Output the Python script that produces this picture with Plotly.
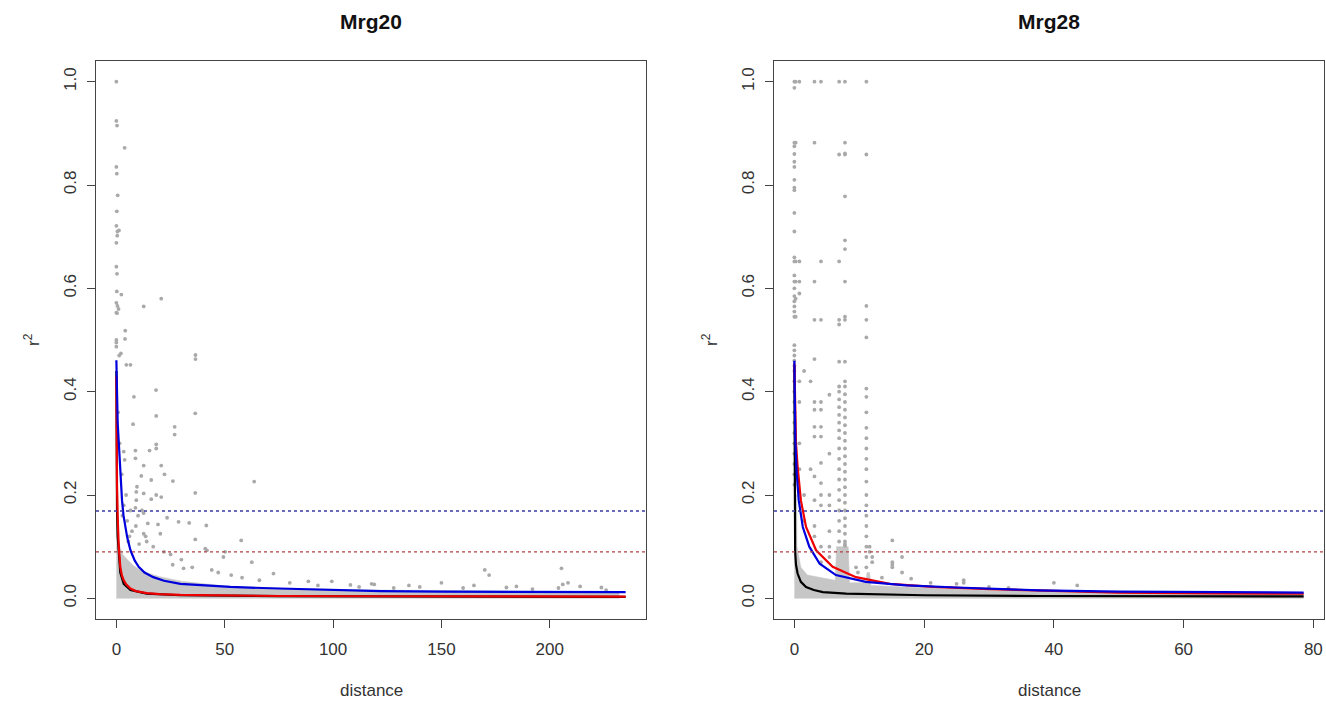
import plotly.graph_objects as go

# ---------------- data: Mrg20 ----------------
m20_pts_d = [0, 0, 0.3, 3.8, 0, 0.2, 0.6, 0.2, 0, 0.5, 1.2, 0, 0.4, 0, 0.3, 0.2, 2.3, 0, 0.5, 1, 0, 0.3,
             12.6, 20.7, 0, 0, 0, 4.1, 4.0, 2.1, 1.3, 6.5, 4.6, 36.5, 36.5, 18.3, 8.1, 18.4, 36.4, 7.7,
             26.9, 26.9, 3.4, 8.8, 15.3, 18.4, 18.4, 3.8, 8.8, 12.6, 20.7, 11.5, 22.2, 16.1, 26.1, 63.6,
             36.4, 9.5, 9.2, 9.2, 12.6, 16.1, 18.4, 20.7, 3.4, 6.5, 8.8, 11.8, 12.6, 23.4, 28.7, 33.6,
             41.5, 19.2, 20.3, 12.6, 36.4, 57.6, 41.8, 41, 50.2, 49.4, 62.5, 72.5, 88.6, 99.4, 117.8,
             205.4, 208.4, 206, 214, 223.8, 204, 180, 184.6, 170, 172, 150, 135, 119, 108, 14, 17, 22,
             25, 30, 6, 9, 5, 14.5, 10.5, 26, 31, 35, 44, 47, 53, 58, 66, 80, 93, 112, 128, 160, 192,
             226, 140, 165, 2.5, 1.5, 0.8, 4.5, 7.2, 10, 13.5, 2.8, 5.5]
m20_pts_r = [1.0, 0.924, 0.915, 0.872, 0.835, 0.822, 0.78, 0.749, 0.721, 0.71, 0.712, 0.688, 0.702,
             0.642, 0.628, 0.594, 0.588, 0.572, 0.566, 0.56, 0.553, 0.552, 0.565, 0.58, 0.5, 0.495,
             0.487, 0.518, 0.502, 0.474, 0.47, 0.452, 0.452, 0.471, 0.463, 0.403, 0.39, 0.353, 0.358,
             0.337, 0.332, 0.317, 0.284, 0.286, 0.286, 0.298, 0.29, 0.268, 0.271, 0.257, 0.257, 0.237,
             0.24, 0.229, 0.227, 0.226, 0.204, 0.216, 0.206, 0.19, 0.203, 0.192, 0.2, 0.196, 0.18, 0.17,
             0.175, 0.17, 0.165, 0.156, 0.148, 0.146, 0.141, 0.143, 0.125, 0.125, 0.114, 0.112, 0.093,
             0.096, 0.09, 0.08, 0.07, 0.048, 0.033, 0.033, 0.028, 0.058, 0.03, 0.027, 0.023, 0.021,
             0.02, 0.021, 0.023, 0.055, 0.045, 0.03, 0.025, 0.027, 0.026, 0.11, 0.1, 0.09, 0.085, 0.075,
             0.12, 0.14, 0.15, 0.145, 0.105, 0.065, 0.058, 0.06, 0.055, 0.05, 0.045, 0.04, 0.035, 0.03,
             0.025, 0.022, 0.02, 0.02, 0.018, 0.016, 0.022, 0.025, 0.24, 0.3, 0.36, 0.2, 0.13, 0.16,
             0.12, 0.16, 0.11]
# envelope of the dense cloud of points near r = 0
m20_cloud_d = [0, 0.5, 1, 2, 3, 5, 8, 12, 20, 30, 50, 80, 120, 160, 200, 232, 232, 0]
m20_cloud_r = [0.19, 0.14, 0.11, 0.095, 0.085, 0.075, 0.063, 0.052, 0.042, 0.033, 0.024, 0.019,
               0.016, 0.015, 0.014, 0.012, 0.0, 0.0]
m20_black_d = [0, 0.05, 0.15, 0.3, 0.6, 1.1, 1.8, 3.4, 6.5, 14, 29.5, 75, 150, 235]
m20_black_r = [0.44, 0.30, 0.22, 0.17, 0.12, 0.08, 0.05, 0.028, 0.016, 0.009, 0.006, 0.0042, 0.0035, 0.003]
m20_red_d = [0, 0.05, 0.15, 0.3, 0.6, 1.1, 1.8, 2.5, 3.4, 4.5, 6.5, 9, 14, 20, 29.5, 45, 75, 120, 180, 235]
m20_red_r = [0.43, 0.33, 0.27, 0.216, 0.158, 0.10, 0.061, 0.045, 0.035, 0.027, 0.019, 0.014, 0.010,
             0.008, 0.0065, 0.0055, 0.0045, 0.004, 0.0038, 0.0035]
m20_blue_d = [0, 0.1, 0.3, 0.6, 1.0, 1.5, 2.0, 2.6, 3.3, 4.1, 5.0, 6.5, 8.5, 10.3, 13, 17, 22, 29.5,
              40, 52.5, 75, 100, 122, 150, 180, 210, 235]
m20_blue_r = [0.461, 0.43, 0.384, 0.34, 0.31, 0.265, 0.23, 0.19, 0.16, 0.138, 0.118, 0.093, 0.073,
              0.061, 0.05, 0.041, 0.034, 0.028, 0.025, 0.022, 0.019, 0.016, 0.014, 0.013, 0.0125,
              0.012, 0.012]

# ---------------- data: Mrg28 ----------------
m28_pts_d = ([0] * 39 + [0.2] * 6 + [0.77] * 8 + [1.5] * 3 + [3.1] * 13 + [4.1] * 13 + [5.4] * 7
             + [6.9] * 24 + [7.8] * 35 + [11.1] * 22 + [11.6, 11.6, 12, 12, 15.1, 15.1, 15.1, 15.1,
             16.6, 16.6, 18, 9.5, 26.1, 26.1, 40, 43.6, 33, 25, 2.5, 2.5, 9.8, 13.5, 21, 30])
m28_pts_r = ([1.0, 0.988, 0.882, 0.875, 0.86, 0.845, 0.835, 0.81, 0.795, 0.79, 0.746, 0.71, 0.66,
              0.652, 0.625, 0.613, 0.60, 0.585, 0.575, 0.565, 0.555, 0.545, 0.49, 0.48, 0.47, 0.46,
              0.45, 0.44, 0.42, 0.40, 0.38, 0.36, 0.34, 0.32, 0.30, 0.28, 0.26, 0.24, 0.22]
             + [1.0, 0.882, 0.652, 0.613, 0.58, 0.545]
             + [1.0, 0.652, 0.613, 0.59, 0.42, 0.38, 0.3, 0.25]
             + [0.44, 0.2, 0.15]
             + [1.0, 0.882, 0.613, 0.539, 0.463, 0.38, 0.365, 0.332, 0.313, 0.236, 0.19, 0.14, 0.12]
             + [1.0, 0.652, 0.539, 0.38, 0.365, 0.332, 0.313, 0.262, 0.223, 0.2, 0.18, 0.1, 0.07]
             + [0.394, 0.28, 0.2, 0.18, 0.13, 0.1, 0.08]
             + [1.0, 0.859, 0.652, 0.539, 0.53, 0.458, 0.41, 0.40, 0.385, 0.37, 0.355, 0.34, 0.325,
                0.31, 0.29, 0.27, 0.25, 0.23, 0.21, 0.19, 0.17, 0.15, 0.13, 0.11]
             + [1.0, 0.882, 0.861, 0.859, 0.778, 0.693, 0.676, 0.613, 0.545, 0.539, 0.458, 0.42,
                0.41, 0.395, 0.38, 0.365, 0.35, 0.335, 0.32, 0.305, 0.29, 0.275, 0.26, 0.245, 0.23,
                0.215, 0.20, 0.185, 0.17, 0.155, 0.14, 0.125, 0.11, 0.105, 0.102]
             + [1.0, 0.859, 0.566, 0.539, 0.505, 0.406, 0.39, 0.36, 0.33, 0.31, 0.29, 0.27, 0.25,
                0.226, 0.2, 0.18, 0.16, 0.14, 0.12, 0.1, 0.08, 0.06]
             + [0.1, 0.09, 0.08, 0.07, 0.112, 0.07, 0.065, 0.06, 0.08, 0.05, 0.038, 0.06, 0.035,
                0.03, 0.03, 0.025, 0.02, 0.028, 0.42, 0.25, 0.05, 0.04, 0.03, 0.022])
m28_cloud_d = [0, 0.35, 0.4, 1, 2, 4, 6.3, 6.5, 8.3, 8.5, 11, 11.2, 11.6, 11.8, 20, 30, 50, 78.5, 78.5, 0]
m28_cloud_r = [0.2, 0.2, 0.1, 0.06, 0.045, 0.04, 0.035, 0.1, 0.1, 0.03, 0.03, 0.05, 0.05, 0.025,
               0.02, 0.015, 0.012, 0.01, 0.0, 0.0]
m28_black_d = [0, 0.02, 0.06, 0.12, 0.25, 0.5, 1.0, 1.8, 3, 4.4, 8, 12, 20, 37.8, 60, 78.5]
m28_black_r = [0.45, 0.30, 0.15, 0.09, 0.065, 0.048, 0.032, 0.022, 0.016, 0.012, 0.009, 0.0078,
               0.006, 0.0045, 0.004, 0.0038]
m28_red_d = [0, 0.1, 0.25, 0.5, 1.0, 1.8, 3.35, 5.9, 9.5, 14.7, 21.4, 30, 40, 50, 65, 78.5]
m28_red_r = [0.455, 0.38, 0.30, 0.255, 0.19, 0.138, 0.093, 0.061, 0.041, 0.028, 0.022, 0.018,
             0.014, 0.011, 0.0095, 0.009]
m28_blue_d = [0, 0.05, 0.15, 0.36, 0.67, 1.3, 2.3, 3.9, 6.4, 11, 17.3, 25, 37.8, 50, 65, 78.5]
m28_blue_r = [0.46, 0.40, 0.306, 0.242, 0.19, 0.138, 0.10, 0.067, 0.045, 0.032, 0.025, 0.021,
              0.0155, 0.013, 0.012, 0.011]

thresh_blue = 0.169
thresh_red = 0.09

titles = ["Mrg20", "Mrg28"]
x_ticks20 = [0, 50, 100, 150, 200]
x_ticks28 = [0, 20, 40, 60, 80]
y_ticks = [0.0, 0.2, 0.4, 0.6, 0.8, 1.0]
y_ticklabels = ["0.0", "0.2", "0.4", "0.6", "0.8", "1.0"]

# ---------------- figure ----------------
W, H = 1326, 702
PT_COLOR = "#a9a9a9"
CLOUD_COLOR = "#c6c6c6"
FONT = "Liberation Sans, Arial, sans-serif"

fig = go.Figure()

panels = [
    ("x", "y", m20_cloud_d, m20_cloud_r, m20_pts_d, m20_pts_r,
     (m20_black_d, m20_black_r), (m20_red_d, m20_red_r), (m20_blue_d, m20_blue_r), [-9.4, 244.4]),
    ("x2", "y2", m28_cloud_d, m28_cloud_r, m28_pts_d, m28_pts_r,
     (m28_black_d, m28_black_r), (m28_red_d, m28_red_r), (m28_blue_d, m28_blue_r), [-3.14, 81.64]),
]

for xa, ya, cd, cr, pd_, pr, blk, red, blu, xr in panels:
    fig.add_trace(go.Scatter(x=cd, y=cr, xaxis=xa, yaxis=ya, mode="lines", fill="toself",
                             fillcolor=CLOUD_COLOR, line=dict(width=0.5, color=CLOUD_COLOR),
                             hoverinfo="skip", showlegend=False))
    fig.add_trace(go.Scatter(x=pd_, y=pr, xaxis=xa, yaxis=ya, mode="markers",
                             marker=dict(size=3.8, color=PT_COLOR), showlegend=False))
    for (dd, rr), col in ((blk, "#000000"), (red, "#ee0000"), (blu, "#0000dd")):
        fig.add_trace(go.Scatter(x=dd, y=rr, xaxis=xa, yaxis=ya, mode="lines",
                                 line=dict(color=col, width=2.2), showlegend=False))
    for val, col in ((thresh_blue, "#3a3aa8"), (thresh_red, "#b04040")):
        fig.add_trace(go.Scatter(x=xr, y=[val, val], xaxis=xa, yaxis=ya, mode="lines",
                                 line=dict(color=col, width=1.3, dash="dot"), showlegend=False))

x1_dom = [96 / W, 646 / W]
x2_dom = [774 / W, 1324 / W]
y_dom = [1 - 619 / H, 1 - 61 / H]

axis_common = dict(showline=True, mirror=True, linecolor="#444444", linewidth=1.3,
                   ticks="outside", ticklen=8, tickwidth=1.3, tickcolor="#444444",
                   showgrid=False, zeroline=False,
                   tickfont=dict(family=FONT, size=17, color="#333333"))

fig.update_layout(
    width=W, height=H, margin=dict(l=0, r=0, t=0, b=0),
    plot_bgcolor="white", paper_bgcolor="white", showlegend=False,
    xaxis=dict(domain=x1_dom, range=[-9.4, 244.4], tickvals=x_ticks20, anchor="y",
               ticklabelstandoff=6, **axis_common),
    yaxis=dict(domain=y_dom, range=[-0.04, 1.04], tickvals=y_ticks, ticktext=y_ticklabels,
               tickangle=-90, anchor="x", ticklabelstandoff=4, **axis_common),
    xaxis2=dict(domain=x2_dom, range=[-3.14, 81.64], tickvals=x_ticks28, anchor="y2",
                ticklabelstandoff=6, **axis_common),
    yaxis2=dict(domain=y_dom, range=[-0.04, 1.04], tickvals=y_ticks, ticktext=y_ticklabels,
                tickangle=-90, anchor="x2", ticklabelstandoff=4, **axis_common),
)

for i, (xd, title) in enumerate(((x1_dom, titles[0]), (x2_dom, titles[1]))):
    cx = (xd[0] + xd[1]) / 2
    fig.add_annotation(text="<b>%s</b>" % title, x=cx, y=1 - 21 / H, xref="paper", yref="paper",
                       showarrow=False, font=dict(family=FONT, size=21, color="#111111"),
                       xanchor="center", yanchor="middle")
    fig.add_annotation(text="distance", x=cx, y=1 - 690 / H, xref="paper", yref="paper",
                       showarrow=False, font=dict(family=FONT, size=17, color="#333333"),
                       xanchor="center", yanchor="middle")
    fig.add_annotation(text="r<sup>2</sup>", x=(xd[0] * W - 64) / W, y=1 - 340 / H,
                       xref="paper", yref="paper", textangle=-90,
                       showarrow=False, font=dict(family=FONT, size=17, color="#333333"),
                       xanchor="center", yanchor="middle")

fig.write_html("out.html", config={"displayModeBar": False},
               post_script="document.body.style.margin='0';document.body.style.overflow='hidden';")
